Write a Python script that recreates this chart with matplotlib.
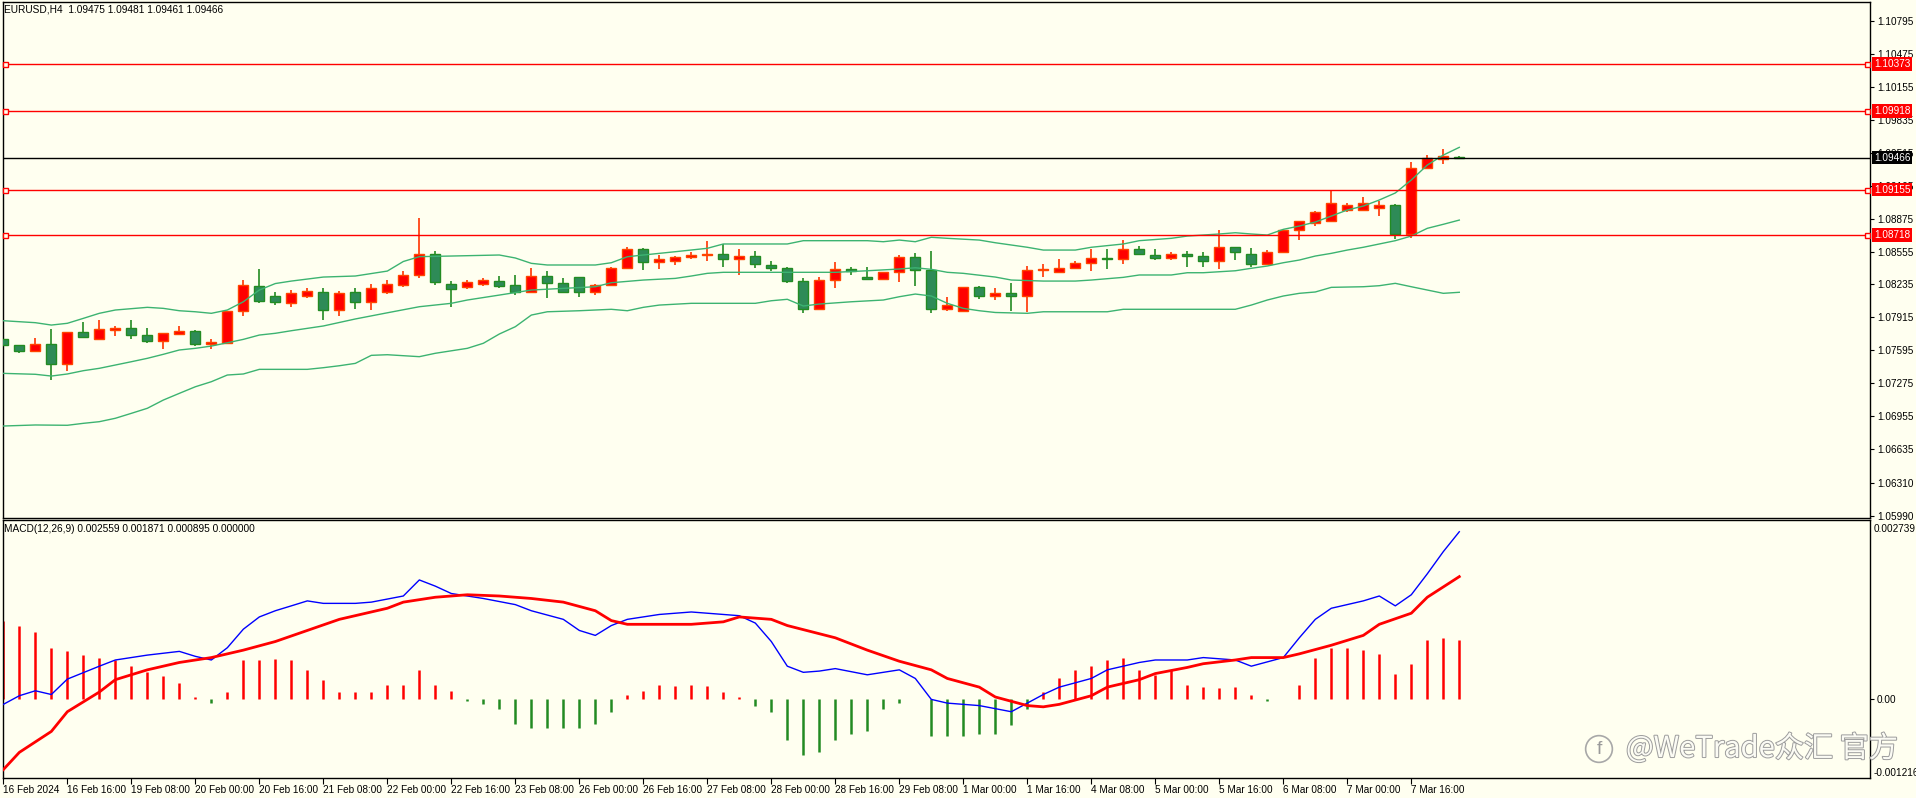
import matplotlib
matplotlib.use("Agg")
import numpy as np
import matplotlib.pyplot as plt
import matplotlib.patheffects as pe
from matplotlib.transforms import blended_transform_factory

W, H = 1916, 798
BG = "#FFFFF0"

# ---- EURUSD H4 candles (bar 0 = 16 Feb 2024 00:00) ----
opens = [1.07705, 1.07644, 1.07592, 1.07654, 1.07460, 1.07770, 1.07708, 1.07796, 1.07809, 1.07741,
         1.07689, 1.07751, 1.07780, 1.07654, 1.07669, 1.07974, 1.08220, 1.08123, 1.08058, 1.08123,
         1.08162, 1.07987, 1.08162, 1.08067, 1.08162, 1.08230, 1.08327, 1.08530, 1.08239, 1.08210,
         1.08239, 1.08268, 1.08227, 1.08165, 1.08314, 1.08246, 1.08304, 1.08159, 1.08227, 1.08392,
         1.08576, 1.08450, 1.08460, 1.08498, 1.08518, 1.08527, 1.08479, 1.08508, 1.08421, 1.08392,
         1.08265, 1.07994, 1.08275, 1.08382, 1.08304, 1.08285, 1.08353, 1.08498, 1.08372, 1.07994,
         1.07974, 1.08207, 1.08120, 1.08149, 1.08120, 1.08372, 1.08353, 1.08392, 1.08440, 1.08489,
         1.08479, 1.08576, 1.08518, 1.08489, 1.08527, 1.08508, 1.08460, 1.08595, 1.08527, 1.08430,
         1.08547, 1.08760, 1.08834, 1.08851, 1.08958, 1.08958, 1.08977, 1.09006, 1.08722, 1.09362,
         1.09456, 1.09475]
highs = [1.07764, 1.07650, 1.07715, 1.07799, 1.07772, 1.07870, 1.07890, 1.07831, 1.07890, 1.07812,
         1.07763, 1.07831, 1.07793, 1.07705, 1.07976, 1.08278, 1.08385, 1.08162, 1.08181, 1.08200,
         1.08200, 1.08171, 1.08200, 1.08239, 1.08278, 1.08365, 1.08885, 1.08560, 1.08268, 1.08278,
         1.08297, 1.08317, 1.08327, 1.08395, 1.08365, 1.08295, 1.08306, 1.08239, 1.08401, 1.08598,
         1.08589, 1.08521, 1.08511, 1.08550, 1.08657, 1.08628, 1.08579, 1.08557, 1.08460, 1.08401,
         1.08295, 1.08304, 1.08453, 1.08401, 1.08401, 1.08356, 1.08521, 1.08540, 1.08560, 1.08110,
         1.08215, 1.08220, 1.08197, 1.08246, 1.08411, 1.08430, 1.08479, 1.08460, 1.08579, 1.08576,
         1.08666, 1.08605, 1.08576, 1.08547, 1.08560, 1.08547, 1.08760, 1.08598, 1.08586, 1.08566,
         1.08773, 1.08850, 1.08945, 1.09152, 1.09030, 1.09084, 1.09050, 1.09020, 1.09423, 1.09489,
         1.09547, 1.09481]
lows = [1.07608, 1.07567, 1.07582, 1.07307, 1.07398, 1.07718, 1.07696, 1.07737, 1.07708, 1.07670,
        1.07611, 1.07748, 1.07640, 1.07611, 1.07664, 1.07932, 1.08055, 1.08035, 1.08019, 1.08103,
        1.07890, 1.07929, 1.08000, 1.07987, 1.08142, 1.08210, 1.08300, 1.08230, 1.08019, 1.08191,
        1.08220, 1.08200, 1.08135, 1.08162, 1.08106, 1.08155, 1.08116, 1.08135, 1.08225, 1.08382,
        1.08378, 1.08388, 1.08421, 1.08479, 1.08465, 1.08407, 1.08324, 1.08397, 1.08368, 1.08246,
        1.07961, 1.07984, 1.08203, 1.08324, 1.08275, 1.08282, 1.08256, 1.08217, 1.07955, 1.07974,
        1.07970, 1.08097, 1.08081, 1.07980, 1.07970, 1.08310, 1.08343, 1.08382, 1.08368, 1.08388,
        1.08436, 1.08524, 1.08469, 1.08475, 1.08407, 1.08407, 1.08388, 1.08475, 1.08407, 1.08427,
        1.08545, 1.08669, 1.08805, 1.08845, 1.08940, 1.08945, 1.08900, 1.08676, 1.08683, 1.09360,
        1.09401, 1.09461]
closes = [1.07647, 1.07592, 1.07654, 1.07460, 1.07770, 1.07728, 1.07799, 1.07809, 1.07741, 1.07689,
          1.07761, 1.07780, 1.07654, 1.07673, 1.07974, 1.08230, 1.08074, 1.08067, 1.08152, 1.08171,
          1.07987, 1.08152, 1.08067, 1.08200, 1.08239, 1.08327, 1.08530, 1.08260, 1.08191, 1.08259,
          1.08278, 1.08223, 1.08165, 1.08314, 1.08246, 1.08159, 1.08159, 1.08227, 1.08392, 1.08576,
          1.08450, 1.08479, 1.08498, 1.08518, 1.08530, 1.08479, 1.08508, 1.08430, 1.08392, 1.08265,
          1.07994, 1.08275, 1.08382, 1.08362, 1.08285, 1.08353, 1.08498, 1.08372, 1.07994, 1.08032,
          1.08207, 1.08120, 1.08149, 1.08120, 1.08372, 1.08382, 1.08392, 1.08440, 1.08489, 1.08479,
          1.08576, 1.08527, 1.08489, 1.08527, 1.08508, 1.08460, 1.08595, 1.08547, 1.08430, 1.08547,
          1.08760, 1.08848, 1.08938, 1.09025, 1.09006, 1.09025, 1.09006, 1.08725, 1.09362, 1.09462,
          1.09482, 1.09466]

# ---- Bollinger bands at these bars ----
bb_up_bar = [0, 2, 3, 4, 5, 6, 7, 9, 10, 11, 12, 13, 14, 15, 16, 17, 18, 20, 22, 24, 25, 26, 28, 31,
             32, 33, 34, 37, 38, 39, 40, 42, 44, 45, 49, 50, 54, 55, 56, 57, 58, 59, 61, 62, 64, 65,
             67, 68, 70, 71, 73, 74, 76, 77, 78, 79, 80, 81, 82, 83, 84, 85, 86, 87, 88, 89, 90, 91]
bb_up = [1.07883, 1.07864, 1.07841, 1.07858, 1.07906, 1.07955, 1.07987, 1.08013, 1.08003, 1.07980,
         1.07970, 1.07955, 1.07987, 1.08067, 1.08181, 1.08244, 1.08268, 1.08307, 1.08317, 1.08365,
         1.08458, 1.08505, 1.08511, 1.08521, 1.08492, 1.08440, 1.08424, 1.08424, 1.08446, 1.08504,
         1.08521, 1.08553, 1.08586, 1.08628, 1.08628, 1.08660, 1.08660, 1.08650, 1.08666, 1.08650,
         1.08693, 1.08683, 1.08666, 1.08640, 1.08596, 1.08569, 1.08569, 1.08596, 1.08628, 1.08660,
         1.08683, 1.08705, 1.08725, 1.08737, 1.08725, 1.08715, 1.08770, 1.08802, 1.08841, 1.08899,
         1.08958, 1.08996, 1.09055, 1.09123, 1.09249, 1.09394, 1.09491, 1.09566]
bb_mid_bar = [0, 2, 3, 4, 5, 6, 7, 8, 9, 10, 11, 12, 13, 14, 15, 16, 17, 18, 20, 22, 24, 26, 28, 29,
              31, 33, 35, 37, 38, 40, 42, 43, 44, 45, 52, 54, 56, 57, 58, 59, 60, 62, 63, 65, 67, 68,
              70, 71, 73, 74, 75, 77, 78, 79, 80, 81, 82, 83, 84, 85, 86, 87, 88, 89, 90, 91]
bb_mid = [1.07372, 1.07363, 1.07346, 1.07366, 1.07398, 1.07421, 1.07453, 1.07485, 1.07518, 1.07557,
          1.07599, 1.07615, 1.07637, 1.07669, 1.07702, 1.07744, 1.07761, 1.07786, 1.07832, 1.07900,
          1.07960, 1.08019, 1.08052, 1.08084, 1.08132, 1.08181, 1.08197, 1.08213, 1.08252, 1.08278,
          1.08294, 1.08317, 1.08343, 1.08353, 1.08353, 1.08368, 1.08385, 1.08397, 1.08382, 1.08353,
          1.08343, 1.08307, 1.08278, 1.08268, 1.08268, 1.08278, 1.08304, 1.08327, 1.08327, 1.08349,
          1.08349, 1.08368, 1.08392, 1.08414, 1.08446, 1.08472, 1.08511, 1.08537, 1.08569, 1.08596,
          1.08628, 1.08660, 1.08705, 1.08780, 1.08819, 1.08860]
bb_low_bar = [0, 2, 4, 5, 6, 7, 8, 9, 10, 11, 12, 13, 14, 15, 16, 19, 20, 21, 22, 23, 24, 26, 27, 29,
              30, 31, 32, 33, 34, 36, 38, 39, 40, 41, 43, 47, 48, 49, 50, 51, 53, 55, 56, 57, 58, 59,
              60, 61, 62, 64, 65, 69, 70, 77, 78, 79, 80, 81, 82, 83, 85, 86, 87, 88, 89, 90, 91]
bb_low = [1.06861, 1.06871, 1.06868, 1.06887, 1.06903, 1.06936, 1.06984, 1.07033, 1.07113, 1.07178,
          1.07242, 1.07291, 1.07356, 1.07366, 1.07411, 1.07411, 1.07427, 1.07446, 1.07469, 1.07547,
          1.07553, 1.07534, 1.07567, 1.07615, 1.07664, 1.07754, 1.07825, 1.07938, 1.07970, 1.07980,
          1.07994, 1.07980, 1.08013, 1.08035, 1.08052, 1.08052, 1.08077, 1.08091, 1.08026, 1.08045,
          1.08067, 1.08084, 1.08116, 1.08142, 1.08123, 1.08052, 1.08003, 1.07980, 1.07963, 1.07955,
          1.07970, 1.07970, 1.07994, 1.07994, 1.08035, 1.08084, 1.08123, 1.08149, 1.08162, 1.08207,
          1.08213, 1.08223, 1.08246, 1.08213, 1.08181, 1.08149, 1.08159]

red_levels = [1.10373, 1.09918, 1.09155, 1.08718]
last_price = 1.09466

price_ticks = [1.10795, 1.10475, 1.10155, 1.09835, 1.09515, 1.09195, 1.08875, 1.08555,
               1.08235, 1.07915, 1.07595, 1.07275, 1.06955, 1.06635, 1.06310, 1.05990]

# ---- MACD(12,26,9) ----
macd_bar = [0, 1, 2, 3, 4, 6, 7, 9, 11, 12, 13, 14, 15, 16, 17, 18, 19, 20, 22, 23, 25, 26, 27, 28,
            30, 32, 33, 35, 36, 37, 38, 39, 41, 43, 45, 46, 47, 48, 49, 50, 51, 52, 54, 55, 56, 57,
            58, 59, 61, 63, 64, 65, 66, 68, 69, 71, 72, 74, 75, 77, 78, 80, 81, 82, 83, 85, 86, 87,
            88, 89, 90, 91]
macd_main = [-0.000087, 0.000045, 0.000121, 0.000064, 0.000300, 0.000498, 0.000593, 0.000668,
             0.000725, 0.000649, 0.000593, 0.000781, 0.001065, 0.001253, 0.001348, 0.001423,
             0.001499, 0.001461, 0.001461, 0.001480, 0.001574, 0.001820, 0.001725, 0.001612,
             0.001536, 0.001442, 0.001348, 0.001216, 0.001046, 0.000970, 0.001121, 0.001216,
             0.001291, 0.001329, 0.001291, 0.001272, 0.001159, 0.000876, 0.000498, 0.000404,
             0.000423, 0.000461, 0.000366, 0.000404, 0.000442, 0.000310, -0.000011, -0.000068,
             -0.000106, -0.000200, -0.000068, 0.000064, 0.000177, 0.000310, 0.000442, 0.000555,
             0.000593, 0.000593, 0.000630, 0.000593, 0.000498, 0.000630, 0.000933, 0.001216,
             0.001386, 0.001499, 0.001574, 0.001423, 0.001593, 0.001914, 0.002254, 0.002559]
sig_bar = [0, 1, 3, 4, 6, 7, 9, 11, 13, 15, 17, 19, 21, 24, 25, 27, 29, 31, 33, 35, 37, 38, 39, 43,
           45, 46, 48, 49, 52, 54, 56, 58, 59, 61, 62, 64, 65, 66, 68, 69, 71, 72, 74, 75, 77, 78,
           80, 81, 83, 85, 86, 88, 89, 91]
macd_signal = [-0.001087, -0.000823, -0.000502, -0.000200, 0.000102, 0.000291, 0.000442, 0.000555,
               0.000630, 0.000744, 0.000876, 0.001046, 0.001216, 0.001386, 0.001480, 0.001555,
               0.001593, 0.001574, 0.001536, 0.001480, 0.001348, 0.001197, 0.001140, 0.001140,
               0.001178, 0.001253, 0.001216, 0.001121, 0.000933, 0.000744, 0.000574, 0.000442,
               0.000310, 0.000177, 0.000026, -0.000106, -0.000125, -0.000087, 0.000045, 0.000177,
               0.000291, 0.000385, 0.000479, 0.000536, 0.000593, 0.000630, 0.000630, 0.000687,
               0.000819, 0.000970, 0.001140, 0.001310, 0.001555, 0.001871]
macd_hist = [0.001197, 0.001121, 0.001027, 0.000782, 0.000725, 0.000668, 0.000630, 0.000593,
             0.000498, 0.000404, 0.000347, 0.000234, 0.000026, -0.000068, 0.000102, 0.000593,
             0.000593, 0.000612, 0.000593, 0.000442, 0.000291, 0.000102, 0.000102, 0.000102,
             0.000215, 0.000215, 0.000442, 0.000215, 0.000121, -0.000030, -0.000087, -0.000162,
             -0.000389, -0.000446, -0.000446, -0.000446, -0.000446, -0.000389, -0.000200, 0.000064,
             0.000121, 0.000215, 0.000196, 0.000215, 0.000196, 0.000102, 0.000026, -0.000106,
             -0.000200, -0.000634, -0.000861, -0.000823, -0.000634, -0.000540, -0.000502, -0.000162,
             -0.000068, -0.000011, -0.000578, -0.000578, -0.000578, -0.000540, -0.000540, -0.000408,
             -0.000162, 0.000102, 0.000310, 0.000442, 0.000498, 0.000593, 0.000630, 0.000442,
             0.000366, 0.000442, 0.000215, 0.000177, 0.000159, 0.000177, 0.000064, -0.000030,
             -0.000011, 0.000215, 0.000630, 0.000782, 0.000782, 0.000744, 0.000687, 0.000385,
             0.000536, 0.000895, 0.000933, 0.000895]
macd_max, macd_min = 0.002739, -0.001216

time_labels = ["16 Feb 2024", "16 Feb 16:00", "19 Feb 08:00", "20 Feb 00:00", "20 Feb 16:00",
               "21 Feb 08:00", "22 Feb 00:00", "22 Feb 16:00", "23 Feb 08:00", "26 Feb 00:00",
               "26 Feb 16:00", "27 Feb 08:00", "28 Feb 00:00", "28 Feb 16:00", "29 Feb 08:00",
               "1 Mar 00:00", "1 Mar 16:00", "4 Mar 08:00", "5 Mar 00:00", "5 Mar 16:00",
               "6 Mar 08:00", "7 Mar 00:00", "7 Mar 16:00"]


def main() -> None:
    plt.rcParams["font.family"] = ["Liberation Sans", "DejaVu Sans"]
    fig = plt.figure(figsize=(W / 100, H / 100), dpi=100)
    fig.patch.set_facecolor(BG)

    left, right = 2.7, 1870
    ax = fig.add_axes([left / W, 1 - 518 / H, (right - left) / W, 516 / H])
    mx = fig.add_axes([left / W, 1 - 778 / H, (right - left) / W, 258 / H])
    xlim = (-0.04, 116.67)

    for a in (ax, mx):
        a.set_facecolor(BG)
        a.set_xlim(*xlim)
        for s in a.spines.values():
            s.set_color("black")
            s.set_linewidth(1.0)

    # candles
    o = np.array(opens)
    c = np.array(closes)
    x = np.arange(len(o))
    up = c >= o
    wick_col = np.where(up, "#FF3300", "#228B22")
    ax.vlines(x, lows, highs, colors=wick_col, linewidth=1.2, zorder=2)
    body = np.maximum(np.abs(c - o), 0.000015)
    ax.bar(x, body, bottom=np.minimum(o, c), width=0.62,
           color=np.where(up, "#FF0000", "#2E8B57"),
           edgecolor=np.where(up, "#FF4500", "#228B22"), linewidth=1.0, zorder=3)

    band = "#3CB371"
    ax.plot(bb_up_bar, bb_up, color=band, lw=1.0, zorder=4)
    ax.plot(bb_mid_bar, bb_mid, color=band, lw=1.0, zorder=4)
    ax.plot(bb_low_bar, bb_low, color=band, lw=1.0, zorder=4)

    for lvl in red_levels:
        ax.axhline(lvl, color="#FF0000", lw=1.0, zorder=5)
    ax.axhline(last_price, color="black", lw=1.0, zorder=5)

    bt = blended_transform_factory(ax.transAxes, ax.transData)
    ax.plot([0.0012] * len(red_levels), red_levels, "s", ms=3.6, mfc=BG, mec="#FF0000",
            mew=1.0, transform=bt, clip_on=False, zorder=6)
    ax.plot([0.9984] * len(red_levels), red_levels, "s", ms=3.6, mfc=BG, mec="#FF0000",
            mew=1.0, transform=bt, clip_on=False, zorder=6)

    ax.set_ylim(1.05968, 1.10977)
    ax.set_xticks([])
    ax.yaxis.tick_right()
    ax.set_yticks(price_ticks)
    ax.set_yticklabels([f"{v:.5f}" for v in price_ticks])
    ax.tick_params(axis="y", direction="out", length=3, width=0.8, pad=2, labelsize=7.2)

    ft = blended_transform_factory(fig.transFigure, ax.transData)
    for lvl in red_levels:
        ax.text(1874 / W, lvl, f"{lvl:.5f}", transform=ft, color="white", fontsize=7.2,
                va="center", ha="left", clip_on=False, zorder=10,
                bbox=dict(boxstyle="square,pad=0.18", fc="#FF0000", ec="none"))
    ax.text(1874 / W, last_price, f"{last_price:.5f}", transform=ft, color="white", fontsize=7.2,
            va="center", ha="left", clip_on=False, zorder=10,
            bbox=dict(boxstyle="square,pad=0.18", fc="black", ec="none"))

    ax.text(4 / W, 1 - 9 / H, "EURUSD,H4  1.09475 1.09481 1.09461 1.09466",
            transform=fig.transFigure, fontsize=7.3, va="center", ha="left")

    # MACD panel
    hist = np.array(macd_hist)
    hx = np.arange(len(hist))
    mx.vlines(hx, 0, hist, colors=np.where(hist >= 0, "#FF0000", "#228B22"), linewidth=1.8, zorder=2)
    mx.plot(macd_bar, macd_main, color="#0000FF", lw=1.0, zorder=3)
    mx.plot(sig_bar, macd_signal, color="#FF0000", lw=2.0, zorder=4)
    mx.set_ylim(macd_min, macd_max)
    mx.yaxis.tick_right()
    mx.set_yticks([0.0])
    mx.set_yticklabels(["0.00"])
    mx.tick_params(axis="y", direction="out", length=3, width=0.8, pad=2, labelsize=7.2)
    mt = blended_transform_factory(fig.transFigure, mx.transAxes)
    mx.text(1874 / W, 0.985, f"{macd_max:.6f}", transform=mt, fontsize=7.2, va="top", ha="left")
    mx.text(1874 / W, 0.0, f"{macd_min:.6f}", transform=mt, fontsize=7.2, va="bottom", ha="left")
    mx.text(4 / W, 1 - 529 / H, "MACD(12,26,9) 0.002559 0.001871 0.000895 0.000000",
            transform=fig.transFigure, fontsize=7.3, va="center", ha="left")

    mx.set_xticks(np.arange(0, len(o), 4))
    mx.set_xticklabels(time_labels, ha="left")
    mx.tick_params(axis="x", direction="out", length=4, width=0.8, pad=0.8, labelsize=7.2)

    # watermark
    fig.text(1599 / W, 1 - 749 / H, "f", fontsize=14, color="#9a9a9a", ha="center", va="center",
             bbox=dict(boxstyle="circle,pad=0.25", fc="none", ec="#a8a8a8", lw=1.2))
    fig.text(1626 / W, 1 - 749 / H, "@WeTrade众汇 官方", fontsize=21,
             family=["Noto Sans CJK SC", "DejaVu Sans"], color="#FBFBF4", ha="left", va="center",
             path_effects=[pe.withStroke(linewidth=1.4, foreground="#9c9c9c")])

    fig.savefig("out.png", dpi=100, facecolor=BG)


if __name__ == "__main__":
    main()
